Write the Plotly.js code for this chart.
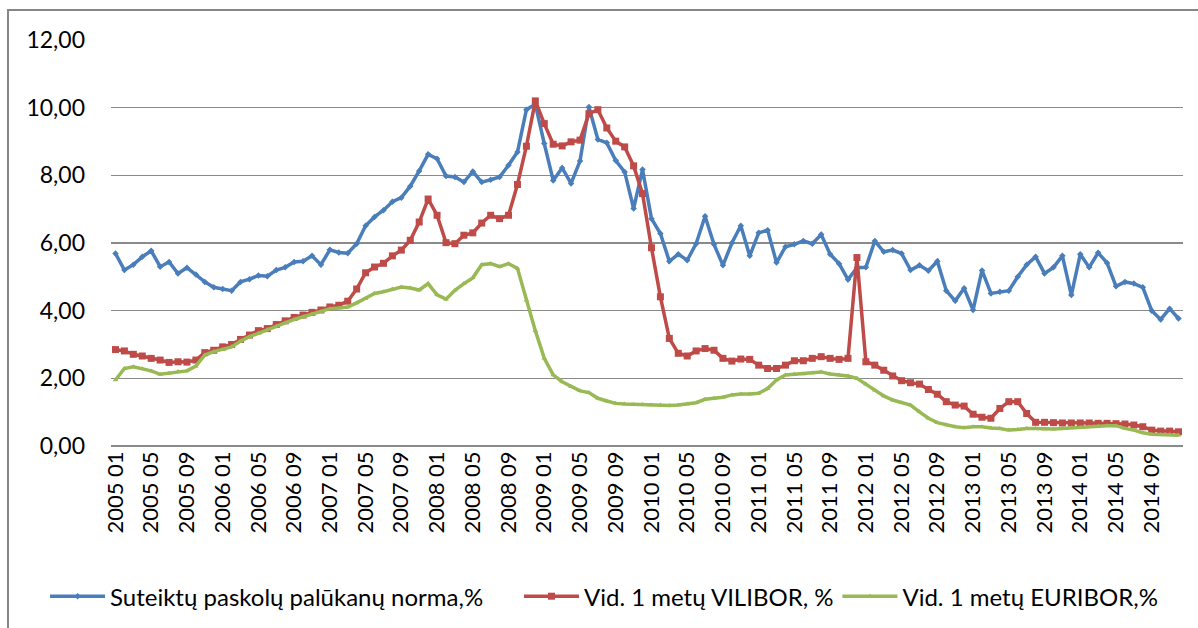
<!DOCTYPE html>
<html>
<head>
<meta charset="utf-8">
<script src="https://cdn.plot.ly/plotly-3.0.1.min.js"></script>
<style>
  html, body { margin: 0; padding: 0; background: #ffffff; }
  #chart { width: 1198px; height: 628px; }
</style>
</head>
<body>
<div id="chart"></div>
<script>
// Category labels (monthly, 2005 01 – 2014 12)
const years = ["2005","2006","2007","2008","2009","2010","2011","2012","2013","2014"];
const months = ["01","02","03","04","05","06","07","08","09","10","11","12"];
const categories = [];
years.forEach(y => months.forEach(m => categories.push(y + " " + m)));

// Tick labels shown on the x axis
const tickLabels = [
  "2005 01","2005 05","2005 09","2006 01","2006 05","2006 09",
  "2007 01","2007 05","2007 09","2008 01","2008 05","2008 09",
  "2009 01","2009 05","2009 09","2010 01","2010 05","2010 09",
  "2011 01","2011 05","2011 09","2012 01","2012 05","2012 09",
  "2013 01","2013 05","2013 09","2014 01","2014 05","2014 09"
];

const seriesNames = [
  "Suteiktų paskolų palūkanų norma,%",
  "Vid. 1 metų VILIBOR, %",
  "Vid. 1 metų EURIBOR,%"
];

// Suteiktų paskolų palūkanų norma, %
const loanRate = [
  5.69,5.20,5.36,5.59,5.77,5.30,5.44,5.10,5.27,5.07,4.85,4.69,
  4.64,4.59,4.85,4.93,5.04,5.02,5.20,5.28,5.44,5.46,5.62,5.36,
  5.80,5.72,5.70,5.98,6.51,6.77,6.97,7.22,7.34,7.68,8.13,8.62,
  8.49,7.98,7.95,7.80,8.11,7.80,7.87,7.95,8.30,8.69,9.94,10.10,
  8.94,7.85,8.22,7.76,8.42,10.02,9.06,8.96,8.44,8.10,7.02,8.17,
  6.72,6.28,5.46,5.67,5.49,5.98,6.79,5.96,5.34,6.00,6.51,5.62,
  6.30,6.38,5.42,5.89,5.96,6.06,5.98,6.25,5.67,5.39,4.92,5.27,
  5.28,6.06,5.74,5.79,5.69,5.20,5.34,5.18,5.46,4.59,4.29,4.66,
  4.02,5.19,4.51,4.56,4.59,5.00,5.36,5.59,5.10,5.28,5.62,4.46,
  5.67,5.28,5.71,5.41,4.72,4.85,4.80,4.69,4.00,3.74,4.06,3.77
];

// Vid. 1 metų VILIBOR, %
const vilibor = [
  2.85,2.81,2.71,2.66,2.59,2.54,2.47,2.49,2.48,2.54,2.76,2.83,
  2.93,3.00,3.15,3.28,3.41,3.47,3.59,3.70,3.80,3.87,3.95,4.02,
  4.11,4.16,4.28,4.64,5.12,5.29,5.40,5.62,5.79,6.08,6.62,7.30,
  6.82,6.01,5.98,6.23,6.30,6.59,6.82,6.72,6.82,7.73,8.86,10.20,
  9.53,8.92,8.87,8.99,9.04,9.82,9.94,9.40,9.01,8.84,8.28,7.46,
  5.86,4.41,3.18,2.74,2.66,2.81,2.88,2.83,2.59,2.51,2.57,2.56,
  2.39,2.29,2.29,2.39,2.52,2.52,2.59,2.64,2.59,2.56,2.59,5.57,
  2.49,2.39,2.24,2.07,1.93,1.87,1.83,1.67,1.53,1.31,1.21,1.18,
  0.94,0.85,0.82,1.11,1.31,1.31,0.96,0.70,0.70,0.69,0.68,0.68,
  0.68,0.68,0.67,0.67,0.66,0.65,0.62,0.57,0.47,0.44,0.44,0.42
];

// Vid. 1 metų EURIBOR, %
const euribor = [
  1.95,2.29,2.34,2.28,2.22,2.12,2.15,2.20,2.22,2.36,2.69,2.79,
  2.85,2.93,3.10,3.23,3.33,3.44,3.54,3.64,3.74,3.82,3.90,3.97,
  4.06,4.08,4.11,4.23,4.36,4.51,4.56,4.64,4.70,4.67,4.61,4.80,
  4.47,4.34,4.60,4.80,4.97,5.36,5.39,5.30,5.39,5.25,4.31,3.41,
  2.59,2.10,1.90,1.75,1.63,1.58,1.41,1.33,1.26,1.24,1.23,1.23,
  1.21,1.21,1.20,1.21,1.24,1.28,1.38,1.41,1.44,1.51,1.54,1.54,
  1.56,1.70,1.95,2.10,2.12,2.13,2.16,2.19,2.13,2.10,2.07,2.00,
  1.83,1.65,1.48,1.36,1.28,1.21,1.01,0.82,0.69,0.62,0.57,0.54,
  0.57,0.57,0.53,0.52,0.47,0.49,0.52,0.52,0.50,0.50,0.52,0.54,
  0.55,0.57,0.59,0.60,0.60,0.52,0.47,0.39,0.35,0.34,0.34,0.32
];

const FONT = "Lato, 'Open Sans', sans-serif";

const traces = [
  {
    x: categories, y: loanRate, name: seriesNames[0], type: "scatter", mode: "lines+markers",
    line: { color: "#4A7EBB", width: 3.5 },
    marker: { symbol: "diamond", size: 5, color: "#4A7EBB" },
    legend: "legend"
  },
  {
    x: categories, y: vilibor, name: seriesNames[1], type: "scatter", mode: "lines+markers",
    line: { color: "#BE4B48", width: 3.5 },
    marker: { symbol: "square", size: 7, color: "#BE4B48" },
    legend: "legend2"
  },
  {
    x: categories, y: euribor, name: seriesNames[2], type: "scatter", mode: "lines+markers",
    line: { color: "#98B954", width: 3.5 },
    marker: { symbol: "triangle-up", size: 5, color: "#98B954" },
    legend: "legend3"
  }
];

function legendAt(xFrac) {
  return {
    orientation: "h",
    xref: "container", yref: "container",
    x: xFrac, xanchor: "left",
    y: 0.05, yanchor: "middle",
    font: { family: FONT, size: 24, color: "#000000" },
    itemwidth: 55,
    bgcolor: "rgba(0,0,0,0)"
  };
}

const layout = {
  width: 1198, height: 628,
  margin: { l: 111, r: 15, t: 40, b: 182 },
  paper_bgcolor: "#ffffff", plot_bgcolor: "#ffffff",
  separators: ", ",
  font: { family: FONT, size: 22, color: "#000000" },
  showlegend: true,
  xaxis: {
    type: "category",
    range: [-0.5, 119.5],
    tickmode: "array",
    tickvals: tickLabels,
    ticktext: tickLabels,
    tickangle: -90,
    ticks: "",
    showgrid: false,
    showline: false,
    zeroline: false,
    tickfont: { family: FONT, size: 22, color: "#000000" },
    fixedrange: true
  },
  yaxis: {
    range: [0, 12],
    tickmode: "array",
    tickvals: [0, 2, 4, 6, 8, 10, 12],
    tickformat: ".2f",
    ticks: "",
    showgrid: true,
    gridcolor: "#8a8a8a",
    gridwidth: 1.2,
    zeroline: true,
    zerolinecolor: "#8a8a8a",
    zerolinewidth: 1.2,
    showline: false,
    ticklabelstandoff: 25,
    tickfont: { family: FONT, size: 23, color: "#000000" },
    fixedrange: true
  },
  legend: legendAt(0.0376),
  legend2: legendAt(0.4332),
  legend3: legendAt(0.699),
  shapes: [
    {
      type: "rect", xref: "paper", yref: "paper",
      x0: -0.0961, x1: 1.05, y0: -0.7, y1: 1.0739,
      line: { color: "#868686", width: 2 },
      fillcolor: "rgba(0,0,0,0)", layer: "below"
    }
  ]
};

Plotly.newPlot("chart", traces, layout, { displayModeBar: false, staticPlot: true });
</script>
</body>
</html>
